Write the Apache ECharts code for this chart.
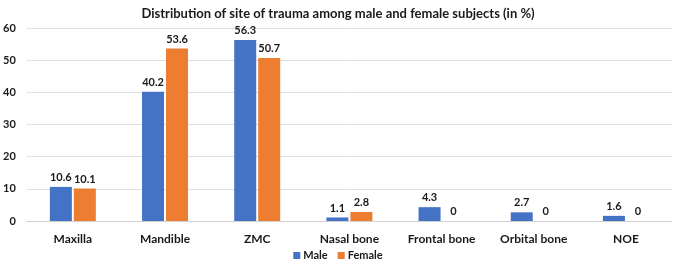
<!DOCTYPE html>
<html><head><meta charset="utf-8">
<script src="https://cdn.jsdelivr.net/npm/echarts@6/dist/echarts.min.js"></script>
<style>html,body{margin:0;padding:0;background:#fff}#c{width:676px;height:266px}</style>
</head><body><div id="c"></div>
<script>
const categories = ['Maxilla','Mandible','ZMC','Nasal bone','Frontal bone','Orbital bone','NOE'];
const male = [10.6, 40.2, 56.3, 1.1, 4.3, 2.7, 1.6];
const female = [10.1, 53.6, 50.7, 2.8, 0, 0, 0];
const yTicks = {min: 0, max: 60, interval: 10};
const FONT = 'Lato, "Open Sans", sans-serif';
const chart = echarts.init(document.getElementById('c'), null, {renderer: 'canvas'});
const lbl = {show: true, position: 'top', distance: 4, color: '#1a1a1a', fontWeight: 'bold', fontSize: 11, fontFamily: FONT};
chart.setOption({
  animation: false,
  title: {text: 'Distribution of site of trauma among male and female subjects (in %)', left: 'center', top: 2,
    textStyle: {fontSize: 13, fontWeight: 'bold', color: '#1a1a1a', fontFamily: FONT}},
  legend: {bottom: 0, left: 'center', itemWidth: 7, itemHeight: 7, itemGap: 10, icon: 'rect',
    textStyle: {fontSize: 11, fontWeight: 'bold', color: '#1a1a1a', fontFamily: FONT, padding: [0,0,0,-2]}},
  grid: {left: 24, right: 4, top: 28, bottom: 45},
  xAxis: {type: 'category', data: categories, axisTick: {show: false},
    axisLine: {lineStyle: {color: '#d0d0d0'}},
    axisLabel: {fontSize: 12, fontWeight: 'bold', color: '#1a1a1a', fontFamily: FONT, margin: 12}},
  yAxis: {type: 'value', min: yTicks.min, max: yTicks.max, interval: yTicks.interval,
    axisLine: {show: false}, axisTick: {show: false},
    splitLine: {lineStyle: {color: '#e0e0e0'}},
    axisLabel: {fontSize: 11, fontWeight: 'bold', color: '#1a1a1a', fontFamily: FONT, margin: 11}},
  series: [
    {name: 'Male', type: 'bar', data: male, barWidth: 22, barGap: '9%', itemStyle: {color: '#4472C4'}, label: lbl},
    {name: 'Female', type: 'bar', data: female, barWidth: 22, itemStyle: {color: '#ED7D31'}, label: lbl}
  ]
});
</script></body></html>
